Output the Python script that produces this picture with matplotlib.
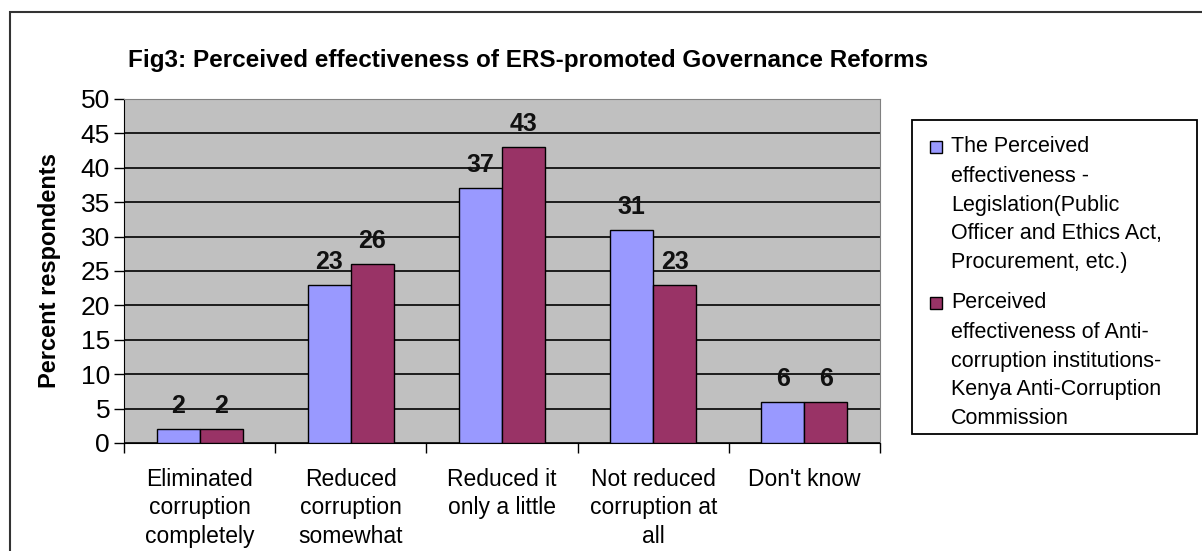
import numpy as np
import matplotlib
matplotlib.use("Agg")
import matplotlib.pyplot as plt
from matplotlib.patches import Rectangle

plt.rcParams['font.family'] = ['Liberation Sans', 'DejaVu Sans']

categories = ["Eliminated\ncorruption\ncompletely", "Reduced\ncorruption\nsomewhat",
              "Reduced it\nonly a little", "Not reduced\ncorruption at\nall", "Don't know"]
legislation = [2, 23, 37, 31, 6]
institutions = [2, 26, 43, 23, 6]
series_names = ["The Perceived\neffectiveness -\nLegislation(Public\nOfficer and Ethics Act,\nProcurement, etc.)",
                "Perceived\neffectiveness of Anti-\ncorruption institutions-\nKenya Anti-Corruption\nCommission"]
colors = ["#9999FF", "#993366"]
title = "Fig3: Perceived effectiveness of ERS-promoted Governance Reforms"

W, H = 1202, 551
fig = plt.figure(figsize=(W / 100, H / 100), dpi=100)
fig.patch.set_facecolor("white")

# outer chart border (cut off at right and bottom)
fig.add_artist(Rectangle((10 / W, -0.05), 1.2, 1 - 12 / H + 0.05, transform=fig.transFigure,
                         fill=False, edgecolor="#333333", linewidth=1.5))

ax = fig.add_axes([124 / W, 1 - 443 / H, (880 - 124) / W, (443 - 99) / H])
ax.set_facecolor("#C0C0C0")

x = np.arange(len(categories))
bw = 0.285
for i, vals in enumerate((legislation, institutions)):
    b = ax.bar(x + (i - 0.5) * bw, vals, bw, color=colors[i], edgecolor="black", linewidth=1,
               label=series_names[i], zorder=3)
    for rect in b:
        ax.annotate(f"{rect.get_height():g}", (rect.get_x() + rect.get_width() / 2, rect.get_height()),
                    xytext=(0, 8), textcoords="offset points", ha="center", va="bottom",
                    fontsize=18, fontweight="bold", color="#111111")

ax.set_xlim(-0.5, len(categories) - 0.5)
ax.set_ylim(0, 50)
ax.set_yticks(np.arange(0, 51, 5))
ax.yaxis.grid(True, color="black", linewidth=1.2, zorder=1)
ax.set_axisbelow(True)

ax.set_xticks(np.arange(len(categories) + 1) - 0.5)
ax.set_xticklabels([])
ax.set_xticks(x, minor=True)
ax.set_xticklabels(categories, minor=True, fontsize=16.5, linespacing=1.3, va="top")
ax.tick_params(axis="x", which="minor", length=0, pad=18)
ax.tick_params(axis="x", which="major", length=7, width=1, direction="out")
ax.tick_params(axis="y", length=7, width=1, labelsize=19, pad=3)

for s in ("top", "right"):
    ax.spines[s].set_color("#808080")
ax.spines["left"].set_color("black")
ax.spines["bottom"].set_color("black")

ax.set_ylabel("Percent respondents", fontsize=17, fontweight="bold", labelpad=14)

fig.text(128 / W, 1 - 60 / H, title, fontsize=17.5, fontweight="bold", va="center", ha="left")

# legend box drawn by hand so the markers sit on the first text line
fig.add_artist(Rectangle((912 / W, 1 - 434 / H), (1197 - 912) / W, (434 - 120) / H,
                         transform=fig.transFigure, fill=True, facecolor="white",
                         edgecolor="black", linewidth=1.3))
y0 = 147
for i, name in enumerate(series_names):
    fig.add_artist(Rectangle((930 / W, 1 - (y0 + 6) / H), 12 / W, 12 / H, transform=fig.transFigure,
                             facecolor=colors[i], edgecolor="black", linewidth=1))
    for line in name.split("\n"):
        fig.text(951 / W, 1 - y0 / H, line, fontsize=15.5, va="center", ha="left")
        y0 += 29
    y0 += 11

fig.savefig("out.png", dpi=100)
